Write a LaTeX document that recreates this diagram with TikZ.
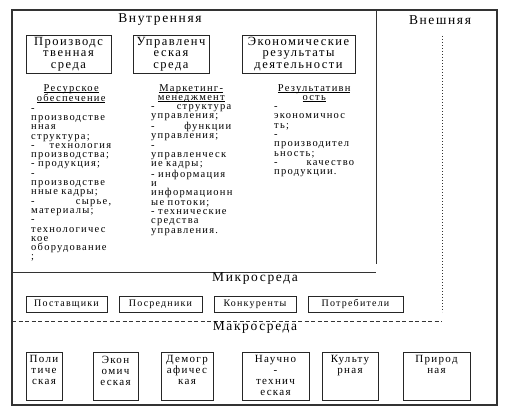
\documentclass[tikz,border=0pt]{standalone}
\usepackage{fontspec}
\setmainfont{Liberation Serif}[LetterSpace=12]
\newcommand\myul[1]{\setbox0\hbox{#1}\rlap{\rule[-1.1pt]{\wd0}{0.5pt}}\box0}
\begin{document}
\begin{tikzpicture}[x=1pt,y=-1pt,
  frame/.style={draw=black!80, line width=1.4pt},
  rule/.style={draw=black!80, line width=0.9pt},
  head/.style={inner sep=0pt, font=\fontsize{13.5}{14}\selectfont},
  tbox/.style={draw=black!85, line width=0.9pt, inner sep=0pt, align=center, font=\fontsize{12.5}{11.5}\selectfont},
  mbox/.style={draw=black!85, line width=0.9pt, inner sep=0pt, font=\fontsize{10}{10}\selectfont},
  bbox/.style={draw=black!85, line width=0.9pt, inner sep=0pt},
  btext/.style={inner sep=0pt, anchor=north, align=center, font=\fontsize{11}{11}\selectfont},
  col/.style={inner sep=0pt, anchor=north west, text width=80pt, align=left, font=\fontsize{10.5}{9.3}\selectfont}
]
\useasboundingbox (0,0) rectangle (520,414);
% frame and dividing lines
\draw[frame] (12,10) rectangle (497,405);
\draw[rule] (376,10) -- (376,264);
\draw[rule] (12,272) -- (376,272);
\draw[draw=black!80, line width=1pt, dotted] (442,36) -- (442,312);
\draw[draw=black!80, line width=0.8pt, dash pattern=on 4pt off 2.5pt] (12,321) -- (442,321);
% headings
\node[head] (vn) at (160,20) {Внутренняя};
\node[head] (vs) at (440,20) {Внешняя};
\node[head] (mi) at (255,279) {Микросреда};
\node[head] (ma) at (255,328) {Макросреда};
% top boxes
\node[tbox, minimum width=85, minimum height=38] (b1) at (68.5,54) {Производс\\твенная\\среда};
\node[tbox, minimum width=76, minimum height=38] (b2) at (171,54) {Управленч\\еская\\среда};
\node[tbox, minimum width=113, minimum height=38] (b3) at (298.5,54) {Экономические\\результаты\\деятельности};
% columns
\node[col] (c1) at (31,84) {%
\hfil\myul{Ресурское}\hfil\\
\hfil\myul{обеспечение}\hfil\\
-\\
производстве\\
нная\\
структура;\\
-\hfill технология\\
производства;\\
- продукция;\\
-\\
производстве\\
нные кадры;\\
-\hfill сырье,\\
материалы;\\
-\\
технологичес\\
кое\\
оборудование\\
;};
\node[col] (c2) at (151,84) {%
\hfil\myul{Маркетинг-}\hfil\\
\hfil\myul{менеджмент}\hfil\\
-\hfill структура\\
управления;\\
-\hfill функции\\
управления;\\
-\\
управленческ\\
ие кадры;\\
- информация\\
и\\
информационн\\
ые потоки;\\
- технические\\
средства\\
управления.};
\node[col] (c3) at (274,84) {%
\hfil\myul{Результативн}\hfil\\
\hfil\myul{ость}\hfil\\
-\\
экономичнос\\
ть;\\
-\\
производител\\
ьность;\\
-\hfill качество\\
продукции.};
% micro boxes
\node[mbox, minimum width=81, minimum height=16] (p1) at (66.5,304) {Поставщики};
\node[mbox, minimum width=83, minimum height=16] (p2) at (160.5,304) {Посредники};
\node[mbox, minimum width=82, minimum height=16] (p3) at (255,304) {Конкуренты};
\node[mbox, minimum width=95, minimum height=16] (p4) at (355.5,304) {Потребители};
% macro boxes
\node[bbox, minimum width=36, minimum height=48] (m1) at (44,376) {};
\node[bbox, minimum width=45, minimum height=48] (m2) at (115.5,376) {};
\node[bbox, minimum width=52, minimum height=48] (m3) at (187,376) {};
\node[bbox, minimum width=67, minimum height=48] (m4) at (275.5,376) {};
\node[bbox, minimum width=56, minimum height=48] (m5) at (350,376) {};
\node[bbox, minimum width=67, minimum height=48] (m6) at (436.5,376) {};
\node[btext] (t1) at ([yshift=-4pt]m1.north) {Поли\\тиче\\ская};
\node[btext] (t2) at ([yshift=-4pt]m2.north) {Экон\\омич\\еская};
\node[btext] (t3) at ([yshift=-4pt]m3.north) {Демогр\\афичес\\кая};
\node[btext] (t4) at ([yshift=-4pt]m4.north) {Научно\\-\\технич\\еская};
\node[btext] (t5) at ([yshift=-4pt]m5.north) {Культу\\рная};
\node[btext] (t6) at ([yshift=-4pt]m6.north) {Природ\\ная};
\end{tikzpicture}
\end{document}
